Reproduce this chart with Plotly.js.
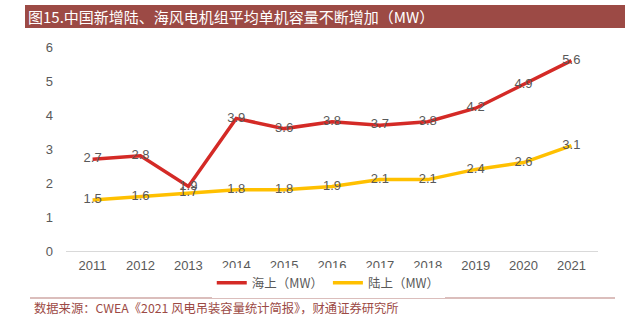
<!DOCTYPE html>
<html><head><meta charset="utf-8">
<script src="https://cdn.plot.ly/plotly-3.0.1.min.js"></script>
<style>html,body{margin:0;padding:0;background:#fff;}#chart{width:625px;height:328px;}</style>
</head><body><div id="chart"></div>
<script>
const years = ['2011','2012','2013','2014','2015','2016','2017','2018','2019','2020','2021'];
const offshore = [2.7, 2.8, 1.9, 3.9, 3.6, 3.8, 3.7, 3.8, 4.2, 4.9, 5.6];
const onshore = [1.5, 1.6, 1.7, 1.8, 1.8, 1.9, 2.1, 2.1, 2.4, 2.6, 3.1];
const seriesNames = ['海上（MW）', '陆上（MW）'];
const titleText = '图15.中国新增陆、海风电机组平均单机容量不断增加（MW）';
const sourceText = '数据来源：CWEA《2021 风电吊装容量统计简报》，财通证券研究所';

const labelFont = {family: 'Liberation Sans, Arial, sans-serif', size: 13, color: '#595959'};
const traces = [
  {x: years, y: offshore, name: seriesNames[0], type: 'scatter', mode: 'lines+text',
   line: {color: '#D42A26', width: 3.5}, text: offshore.map(v => v.toFixed(1)),
   textposition: 'middle center', textfont: labelFont, hoverinfo: 'none'},
  {x: years, y: onshore, name: seriesNames[1], type: 'scatter', mode: 'lines+text',
   line: {color: '#FFC000', width: 3.5}, text: onshore.map(v => v.toFixed(1)),
   textposition: 'middle center', textfont: labelFont, hoverinfo: 'none'}
];
const layout = {
  width: 625, height: 328,
  margin: {l: 66, r: 27, t: 47, b: 77},
  paper_bgcolor: '#ffffff', plot_bgcolor: '#ffffff',
  showlegend: true,
  legend: {orientation: 'h', x: 0.274, y: -0.158, xanchor: 'left', yanchor: 'middle',
    font: {family: 'Noto Sans CJK SC', size: 12.5, color: '#595959'}, itemwidth: 30, tracegroupgap: 0},
  xaxis: {type: 'category', showgrid: false, showline: true, linecolor: '#D9D9D9', linewidth: 1,
    ticks: '', ticklabelstandoff: 2,
    tickfont: {family: 'Liberation Sans, Arial, sans-serif', size: 13, color: '#595959'},
    zeroline: false, fixedrange: true},
  yaxis: {range: [0, 6], dtick: 1, showgrid: false, showline: false, zeroline: false, ticks: '',
    ticklabelstandoff: 12,
    tickfont: {family: 'Liberation Sans, Arial, sans-serif', size: 13, color: '#595959'}, fixedrange: true},
  shapes: [
    {type: 'rect', xref: 'paper', yref: 'paper', x0: -41/532, x1: (625-66)/532 + 0.01,
     y0: (328-77-28)/204, y1: (328-77-5)/204, fillcolor: '#9C4A45', line: {width: 0}, layer: 'below'},
    {type: 'line', xref: 'paper', yref: 'paper', x0: -36/532, x1: (615-66)/532,
     y0: -(298-251)/204, y1: -(298-251)/204, line: {color: '#CFA8A6', width: 1.5}}
  ],
  annotations: [
    {text: titleText, xref: 'paper', yref: 'paper', x: -40/532, y: (328-77-16.5)/204,
     xanchor: 'left', yanchor: 'middle', showarrow: false,
     font: {family: 'Noto Sans CJK SC', size: 15, color: '#ffffff'}},
    {text: sourceText, xref: 'paper', yref: 'paper', x: -34/532, y: -(308-251)/204,
     xanchor: 'left', yanchor: 'middle', showarrow: false,
     font: {family: 'Noto Sans CJK SC', size: 12.3, color: '#9C4A45'}}
  ]
};
Plotly.newPlot('chart', traces, layout, {displayModeBar: false, staticPlot: true});
</script></body></html>
